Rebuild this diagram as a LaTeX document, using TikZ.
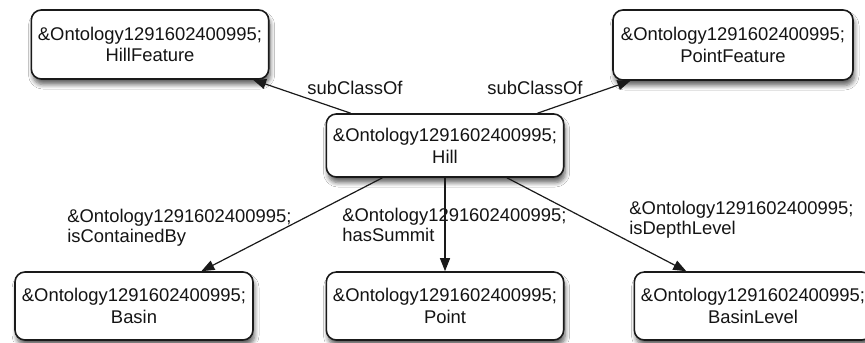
\documentclass[tikz,border=0pt]{standalone}
\usepackage{fontspec}
\setmainfont{Liberation Sans}
\usetikzlibrary{arrows.meta, shadows.blur}
\definecolor{ontoLine}{HTML}{1A1A1A}
\definecolor{ontoText}{HTML}{141414}

\tikzset{
  ontobox/.style={draw=ontoLine, line width=0.8pt, rounded corners=5pt, fill=white,
    minimum width=117pt, minimum height=34.5pt, align=center, text=ontoText,
    font=\fontsize{9.2}{10.9}\selectfont,
    blur shadow={shadow xshift=0.8pt, shadow yshift=-2.8pt, shadow blur radius=2.2pt,
      shadow blur steps=6, shadow opacity=60}},
  ontolbl/.style={font=\fontsize{9.2}{10.2}\selectfont, text=ontoText,
    align=left, inner sep=0pt, anchor=west},
  ontoarrow/.style={draw=ontoLine, line width=0.6pt, -{Triangle[length=6.5pt, width=5pt]}},
}

\begin{document}
\begin{tikzpicture}[x=0.5pt, y=-0.5pt]
  \fill[white] (0,0) rectangle (865,342);
  \useasboundingbox (0,0) rectangle (865,342);
  \clip (0,0) rectangle (865,342);

  % classes
  \node[ontobox, minimum width=117.5pt] (hillfeat) at (150, 44.5)
        {\&Ontology1291602400995;\\HillFeature};
  \node[ontobox, minimum width=120pt, minimum height=35pt] (pointfeat) at (733, 45)
        {\&Ontology1291602400995;\\PointFeature};
  \node[ontobox, minimum width=117pt, minimum height=31.5pt] (hill) at (445, 145.5)
        {\&Ontology1291602400995;\\Hill};
  \node[ontobox, minimum width=119pt, minimum height=34pt] (basin) at (134, 306)
        {\&Ontology1291602400995;\\Basin};
  \node[ontobox, minimum width=116pt, minimum height=34pt] (point) at (445, 306)
        {\&Ontology1291602400995;\\Point};
  \node[ontobox, minimum width=118pt, minimum height=34pt] (basinlvl) at (753, 306)
        {\&Ontology1291602400995;\\BasinLevel};

  % property labels
  \node[ontolbl] (lblSubL) at (307, 88) {subClassOf};
  \node[ontolbl] (lblSubR) at (487, 88) {subClassOf};
  \node[ontolbl] (lblContained) at (67, 228)
        {\&Ontology1291602400995;\\isContainedBy};
  \node[ontolbl] (lblSummit) at (342, 225)
        {\&Ontology1291602400995;\\hasSummit};
  \node[ontolbl] (lblDepth) at (629, 220)
        {\&Ontology1291602400995;\\isDepthLevel};

  % relations
  \draw[ontoarrow] (hill) -- (hillfeat);
  \draw[ontoarrow] (hill) -- (pointfeat);
  \draw[ontoarrow] (hill) -- (basin);
  \draw[ontoarrow] (hill) -- (point);
  \draw[ontoarrow] (hill) -- (basinlvl);
\end{tikzpicture}
\end{document}
